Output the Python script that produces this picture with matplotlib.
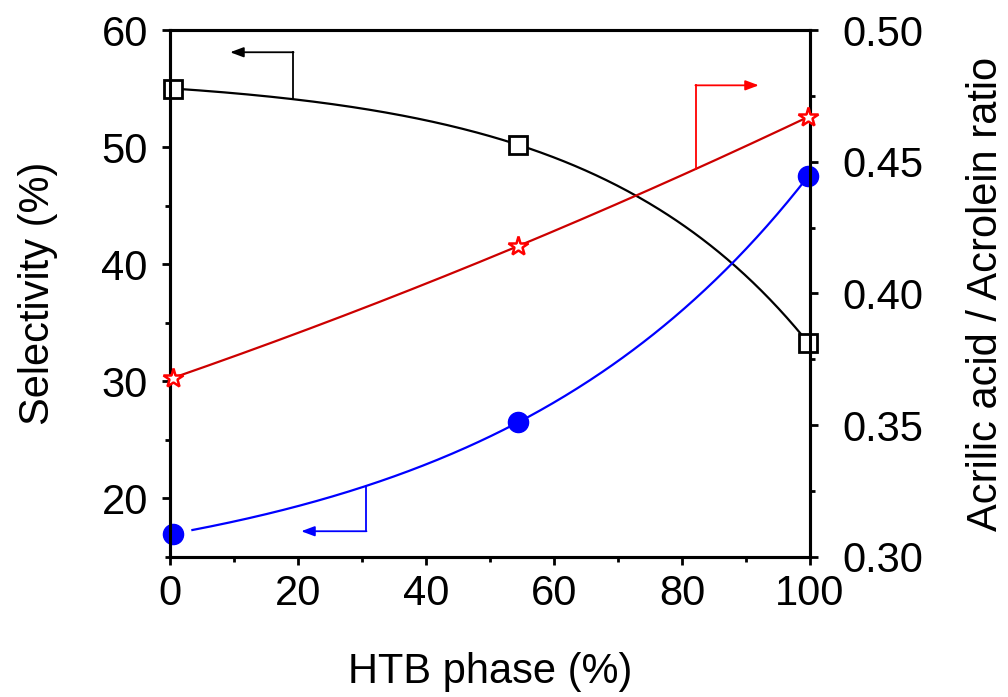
import numpy as np
import matplotlib
matplotlib.use("Agg")
import matplotlib.pyplot as plt
from matplotlib.ticker import MultipleLocator, FormatStrFormatter

plt.rcParams['font.family'] = ['Liberation Sans', 'DejaVu Sans']

# data
htb = [0.5, 54.4, 99.7]
selectivity_acrolein = [55.0, 50.2, 33.3]      # black squares (left)
selectivity_acrylic = [17.0, 26.5, 47.5]       # blue circles (left)
ratio = [0.368, 0.418, 0.467]                  # red stars (right)


def exp_fit(x, y):
    """y = A + B*exp(x/t) passing through three points."""
    x = np.asarray(x, float); y = np.asarray(y, float)
    target = (y[2] - y[1]) / (y[1] - y[0])

    def r(t):
        return (np.exp(x[2] / t) - np.exp(x[1] / t)) / (np.exp(x[1] / t) - np.exp(x[0] / t))
    lo, hi = 3.0, 1e5
    for _ in range(200):
        mid = np.sqrt(lo * hi)
        if r(mid) > target:
            lo = mid
        else:
            hi = mid
    t = np.sqrt(lo * hi)
    B = (y[1] - y[0]) / (np.exp(x[1] / t) - np.exp(x[0] / t))
    A = y[0] - B * np.exp(x[0] / t)
    return lambda xx: A + B * np.exp(np.asarray(xx) / t)


FS = 30

fig = plt.figure(figsize=(10.08, 6.97), dpi=100)
ax = fig.add_axes([170 / 1008, 1 - 557 / 697, 640 / 1008, 527 / 697])
ax2 = ax.twinx()

fb = exp_fit(htb, selectivity_acrolein)
fbl = exp_fit(htb, selectivity_acrylic)
fr = np.poly1d(np.polyfit(htb, ratio, 2))

xs = np.linspace(htb[0], htb[-1], 300)
xs_b = np.linspace(3.5, htb[-1], 300)

ax.plot(xs, fb(xs), color='black', lw=1.6, zorder=2)
ax.plot(xs_b, fbl(xs_b), color='#0000ff', lw=1.6, zorder=2)
ax.plot(htb, selectivity_acrolein, ls='none', marker='s', ms=13, mfc='white',
        mec='black', mew=2, zorder=5, clip_on=False)
ax.plot(htb, selectivity_acrylic, ls='none', marker='o', ms=14.5, mfc='#0000ff',
        mec='#0000ff', zorder=5, clip_on=False)

ax2.plot(xs, fr(xs), color='#cc0000', lw=1.6, zorder=2)
ax2.plot(htb, ratio, ls='none', marker='*', ms=15, mfc='white', mec='#ff0000',
         mew=1.8, zorder=5, clip_on=False)

# arrows
ax.plot([19.2, 19.2], [fb(19.2), 58.1], color='black', lw=1.3)
ax.annotate('', xy=(9.4, 58.1), xytext=(19.3, 58.1),
            arrowprops=dict(arrowstyle='-|>,head_length=0.8,head_width=0.3',
                            color='black', lw=1.3, shrinkA=0, shrinkB=0))
ax.plot([30.6, 30.6], [fbl(30.6), 17.2], color='#0000ff', lw=1.3)
ax.annotate('', xy=(20.5, 17.2), xytext=(30.7, 17.2),
            arrowprops=dict(arrowstyle='-|>,head_length=0.8,head_width=0.3',
                            color='#0000ff', lw=1.3, shrinkA=0, shrinkB=0))
ax2.plot([82.2, 82.2], [fr(82.2), 0.479], color='#ff0000', lw=1.3)
ax2.annotate('', xy=(92.0, 0.479), xytext=(82.1, 0.479),
             arrowprops=dict(arrowstyle='-|>,head_length=0.8,head_width=0.3',
                             color='#ff0000', lw=1.3, shrinkA=0, shrinkB=0))

ax.set_xlim(0, 100)
ax.set_ylim(15, 60)
ax2.set_ylim(0.30, 0.50)

ax.xaxis.set_major_locator(MultipleLocator(20))
ax.xaxis.set_minor_locator(MultipleLocator(10))
ax.yaxis.set_major_locator(MultipleLocator(10))
ax.yaxis.set_minor_locator(MultipleLocator(5))
ax2.yaxis.set_major_locator(MultipleLocator(0.05))
ax2.yaxis.set_minor_locator(MultipleLocator(0.025))
ax2.yaxis.set_major_formatter(FormatStrFormatter('%.2f'))

for a in (ax, ax2):
    for s in a.spines.values():
        s.set_linewidth(2.2)
    a.tick_params(which='major', direction='out', length=6, width=2,
                  labelsize=FS)
    a.tick_params(which='minor', direction='out', length=3.5, width=2)
ax.tick_params(axis='x', top=False, which='both', pad=6)
ax.tick_params(axis='y', which='major', pad=10)
ax2.tick_params(axis='y', which='major', pad=17)

ax.set_xlabel('HTB phase (%)', fontsize=FS)
ax.set_ylabel('Selectivity (%)', fontsize=FS)
ax2.set_ylabel('Acrilic acid / Acrolein ratio', fontsize=FS)
ax.xaxis.set_label_coords(0.5, (557 - 652) / 527)
ax.yaxis.set_label_coords((58 - 170) / 640, 0.5)
ax2.yaxis.set_label_coords((966 - 170) / 640, 0.5)

fig.savefig('out.png', dpi=100)
